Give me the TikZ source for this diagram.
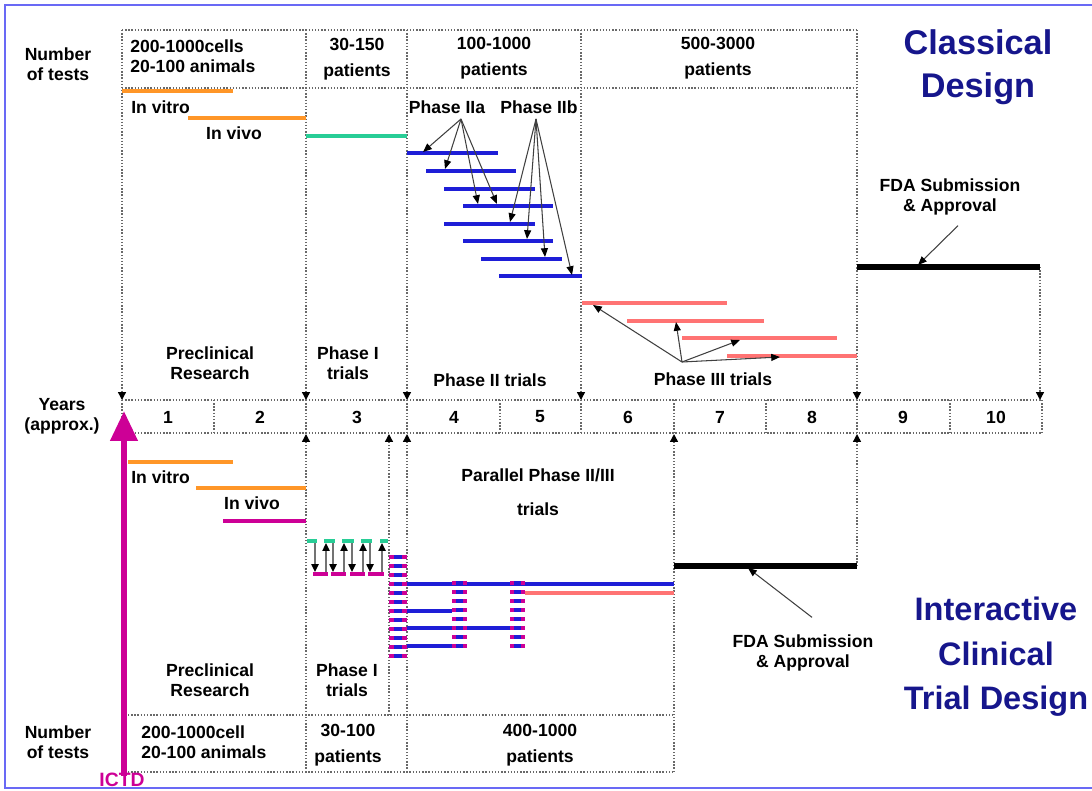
\documentclass[tikz,border=0pt]{standalone}
\usepackage{fontspec}
\setmainfont{Liberation Sans}
\usetikzlibrary{arrows.meta}

\definecolor{frameblue}{RGB}{105,105,245}
\definecolor{navy}{RGB}{22,22,140}
\definecolor{barorange}{RGB}{255,150,40}
\definecolor{barteal}{RGB}{40,205,150}
\definecolor{barblue}{RGB}{30,30,215}
\definecolor{barpink}{RGB}{255,115,115}
\definecolor{barmag}{RGB}{205,0,150}
\definecolor{gridgray}{RGB}{105,105,105}

\begin{document}
\begin{tikzpicture}[x=0.02cm, y=-0.02cm,
  txt/.style={font=\bfseries\fontsize{10}{11.5}\selectfont, align=center, inner sep=0pt},
  heading/.style={font=\bfseries\fontsize{19.5}{24.5}\selectfont, text=navy, align=center, inner sep=0pt},
  gridln/.style={densely dotted, line width=0.8pt, gridgray},
  gridarr/.style={gridln, -{Triangle[length=4.5pt, width=4.5pt, color=black]}},
  bar/.style={line width=2.2pt},
  ptr/.style={line width=0.6pt, black!75, -{Triangle[length=5pt, width=4pt, color=black]}},
  loopptr/.style={line width=1.1pt, black!55, -{Triangle[length=4.5pt, width=4pt, color=black]}},
  stripe/.style={line width=2.2pt}]
\useasboundingbox (0,0) rectangle (1092,791);
\draw[frameblue, line width=1.4pt] (1092,5) -- (5,5) -- (5,788) -- (1092,788);

% classical design, top half
\node[txt] (testsU) at (58,64) {Number\\of tests};
\node[txt, align=left, anchor=west] (cellsU) at (130,56) {200-1000cells\\20-100 animals};
\node[txt] (pat1U) at (357,59) {30-150\\[3pt]patients};
\node[txt] (pat2U) at (494,58) {100-1000\\[3pt]patients};
\node[txt] (pat3U) at (718,58) {500-3000\\[3pt]patients};
\node[heading] (classical) at (978,67) {Classical\\Design};

\draw[gridln] (122,30) -- (857,30) (122,88) -- (857,88);
\foreach \x in {122,306,407,581,857} \draw[gridarr] (\x,30) -- (\x,400);
\draw[gridarr] (1040,267) -- (1040,400);

\draw[bar, barorange] (122,91) -- (233,91);
\draw[bar, barorange] (188,118) -- (306,118);
\node[txt, anchor=west] (vitroU) at (131,107) {In vitro};
\node[txt] (vivoU) at (234,133) {In vivo};
\draw[bar, barteal] (306,136) -- (407,136);

\foreach \a/\b/\y in {407/498/153, 426/516/171, 444/535/189, 463/553/206,
                      444/535/224, 463/553/241, 481/562/259, 499/582/276}
  \draw[bar, barblue] (\a,\y) -- (\b,\y);
\node[txt] (IIa) at (447,107) {Phase IIa};
\node[txt] (IIb) at (539,107) {Phase IIb};
\coordinate (fanA) at (461,119);
\coordinate (fanB) at (536,119);
\foreach \p in {(423,152),(445,169),(478,204),(497,204)} \draw[ptr] (fanA) -- \p;
\foreach \p in {(510,222),(527,239),(545,257),(572,275)} \draw[ptr] (fanB) -- \p;

\foreach \a/\b/\y in {582/727/303, 627/764/321, 682/837/338, 727/857/356}
  \draw[bar, barpink] (\a,\y) -- (\b,\y);
\coordinate (fanC) at (682,362);
\foreach \p in {(593,305),(676,322),(740,340),(780,357)} \draw[ptr] (fanC) -- \p;

\node[txt] (preU) at (210,363) {Preclinical\\Research};
\node[txt] (ph1U) at (348,363) {Phase I\\trials};
\node[txt] (ph2U) at (490,380) {Phase II trials};
\node[txt] (ph3U) at (713,379) {Phase III trials};

\draw[line width=3.4pt] (857,267) -- (1040,267);
\node[txt] (fdaU) at (950,197) {FDA Submission\\\& Approval};
\coordinate (fdaUend) at (918,265);
\draw[ptr] (fdaU.south) ++(8,10) -- (fdaUend);

% years row
\node[txt] (years) at (62,416) {Years\\(approx.)};
\draw[gridln] (122,400) -- (1042,400) (122,433) -- (1042,433);
\foreach \x in {122,214,306,407,500,581,674,766,857,950,1042} \draw[gridln] (\x,400) -- (\x,433);
\foreach \n/\x in {1/168,2/260,3/357,4/454,5/540,6/628,7/720,8/812,9/903,10/996}
  \node[txt] (yr\n) at (\x,417) {\n};

% interactive design, bottom half
\foreach \x in {306,407,674} \draw[gridarr] (\x,772) -- (\x,434);
\draw[gridarr] (389,715) -- (389,434);
\draw[gridarr] (857,566) -- (857,434);
\draw[gridln] (128,715) -- (674,715) (128,772) -- (674,772);

\draw[barmag, line width=3.4pt, -{Triangle[length=17pt, width=15pt]}] (124,776) -- (124,411);
\node[font=\bfseries\fontsize{11}{12}\selectfont, text=barmag, inner sep=0pt] (ictd) at (122,780) {ICTD};

\draw[bar, barorange] (128,462) -- (233,462);
\draw[bar, barorange] (196,488) -- (306,488);
\draw[bar, barmag] (223,521) -- (306,521);
\node[txt, anchor=west] (vitroL) at (131,477) {In vitro};
\node[txt] (vivoL) at (252,503) {In vivo};

\foreach \a/\b in {307/317,324/335,342/354,361/372,380/388} \draw[stripe, barteal] (\a,541) -- (\b,541);
\foreach \a/\b in {313/328,331/346,350/365,368/384} \draw[stripe, barmag] (\a,574) -- (\b,574);
\foreach \x in {315,333,352,370} \draw[loopptr] (\x,543) -- (\x,572);
\foreach \x in {326,344,363,382} \draw[loopptr] (\x,572) -- (\x,543);

\draw[bar, barblue] (407,584) -- (674,584);
\draw[bar, barpink] (525,593) -- (674,593);
\draw[bar, barblue] (407,611) -- (452,611);
\draw[bar, barblue] (407,628) -- (510,628);
\draw[bar, barblue] (407,646) -- (452,646);
\foreach \y in {557,566,...,656} {
  \draw[stripe, barmag] (389,\y) -- (407,\y);
  \draw[stripe, barblue] (394,\y) -- (402,\y);
}
\foreach \x in {452,510} \foreach \y in {583,592,...,647} {
  \draw[stripe, barmag] (\x,\y) -- (\x+15,\y);
  \draw[stripe, barblue] (\x+4,\y) -- (\x+11,\y);
}
\node[txt] (par) at (538,492) {Parallel Phase II/III\\[8pt]trials};

\draw[line width=3.4pt] (674,566) -- (857,566);
\node[txt] (fdaL) at (803,653) {FDA Submission\\\& Approval};
\coordinate (fdaLend) at (748,568);
\draw[ptr] (fdaL.north) ++(9,-17) -- (fdaLend);
\node[heading, font=\bfseries\fontsize{18.5}{25.3}\selectfont] (ictdTitle) at (996,657) {Interactive\\Clinical\\Trial Design};

\node[txt] (preL) at (210,680) {Preclinical\\Research};
\node[txt] (ph1L) at (347,680) {Phase I\\trials};
\node[txt] (testsL) at (58,742) {Number\\of tests};
\node[txt, align=left, anchor=west] (cellsL) at (141,742) {200-1000cell\\20-100 animals};
\node[txt] (pat1L) at (348,745) {30-100\\[3pt]patients};
\node[txt] (pat2L) at (540,745) {400-1000\\[3pt]patients};
\end{tikzpicture}
\end{document}
